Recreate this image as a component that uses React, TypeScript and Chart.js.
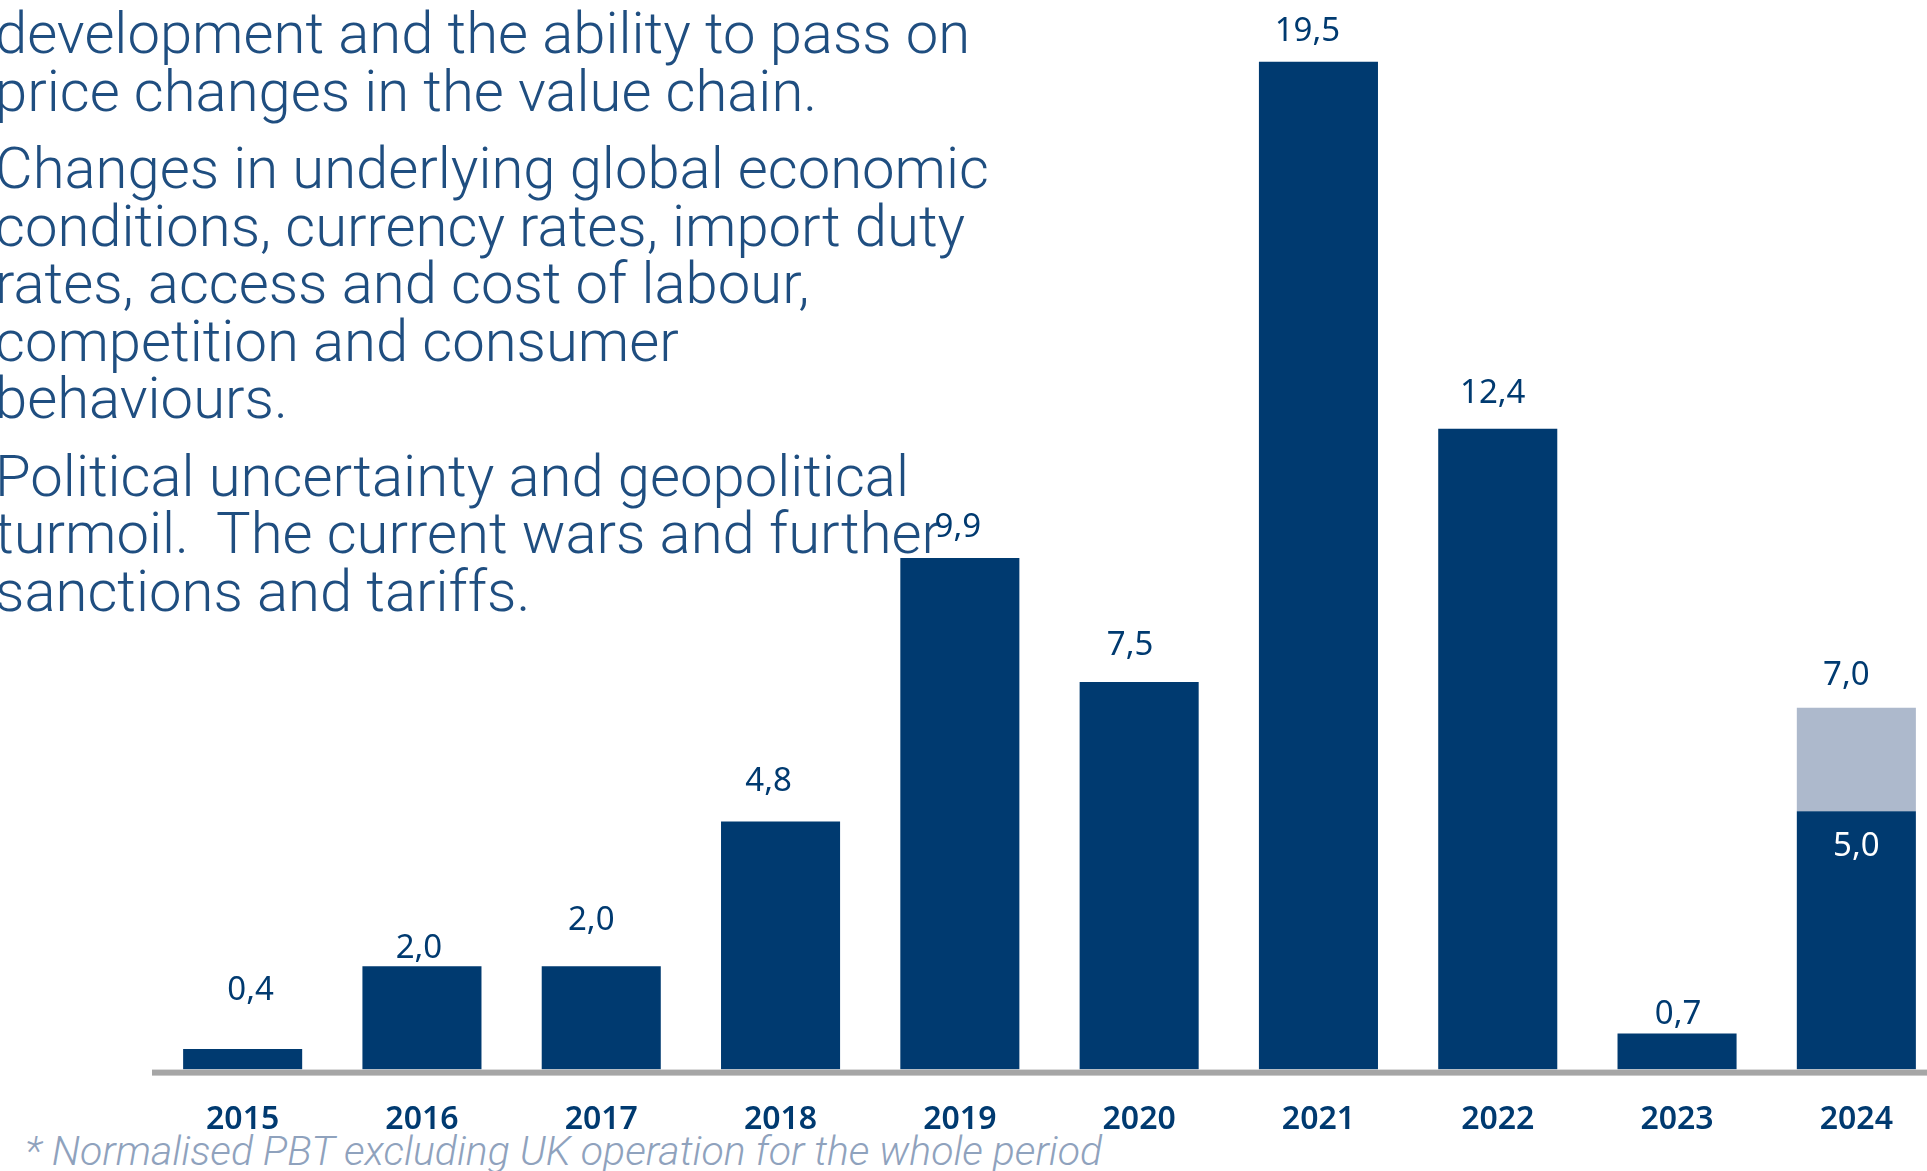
import { useEffect, useRef } from "react";
import { Chart, registerables } from "chart.js";

Chart.register(...registerables);

const years = ["2015", "2016", "2017", "2018", "2019", "2020", "2021", "2022", "2023", "2024"];
const baseValues = [0.4, 2.0, 2.0, 4.8, 9.9, 7.5, 19.5, 12.4, 0.7, 5.0];
const extraValues = [null, null, null, null, null, null, null, null, null, 2.0];
// label placement nudges (px): lift above bar top, horizontal shift
const labelLift = [58, 18, 46, 40, 30, 36, 30, 35, 19, 32];
const labelShift = [8, -3, -10, -12, -2, -9, -11, -5, 1, -10];

const paragraphs = [
  "development and the ability to pass on\nprice changes in the value chain.",
  "Changes in underlying global economic\nconditions, currency rates, import duty\nrates, access and cost of labour,\ncompetition and consumer\nbehaviours.",
  "Political uncertainty and geopolitical\nturmoil.  The current wars and further\nsanctions and tariffs.",
];
const footnote = "* Normalised PBT excluding UK operation for the whole period";

const NAVY = "#003a70";
const LIGHT = "#adb9cc";
const TEXT = "#1f4e80";

const fmt = (v: number) => v.toFixed(1).replace(".", ",");

export default function App() {
  const ref = useRef<HTMLCanvasElement | null>(null);

  useEffect(() => {
    if (!ref.current) return;
    const axisLine = {
      id: "axisLine",
      afterDatasetsDraw(chart: any) {
        const { ctx, chartArea, scales } = chart;
        const y0 = scales.y.getPixelForValue(0);
        ctx.save();
        ctx.fillStyle = "#a6a6a6";
        ctx.fillRect(chartArea.left - 1, y0, chart.width, 6);
        ctx.restore();
      },
    };
    const valueLabels = {
      id: "valueLabels",
      afterDatasetsDraw(chart: any) {
        const { ctx } = chart;
        const m0 = chart.getDatasetMeta(0);
        const m1 = chart.getDatasetMeta(1);
        ctx.save();
        ctx.textAlign = "center";
        ctx.textBaseline = "middle";
        ctx.font = "33px 'Noto Sans'";
        years.forEach((_, i) => {
          const hasExtra = extraValues[i] != null;
          const top = hasExtra ? m1.data[i] : m0.data[i];
          const total = baseValues[i] + (hasExtra ? (extraValues[i] as number) : 0);
          ctx.fillStyle = NAVY;
          ctx.fillText(fmt(total), top.x + labelShift[i], top.y - labelLift[i]);
          if (hasExtra) {
            const b = m0.data[i];
            ctx.fillStyle = "#ffffff";
            ctx.fillText(fmt(baseValues[i]), b.x, b.y + 35);
          }
        });
        ctx.restore();
      },
    };
    const chart = new Chart(ref.current, {
      type: "bar",
      data: {
        labels: years,
        datasets: [
          {
            data: baseValues,
            backgroundColor: NAVY,
            borderWidth: 0,
            categoryPercentage: 1,
            barPercentage: 0.664,
          },
          {
            data: extraValues as any,
            backgroundColor: LIGHT,
            borderWidth: 0,
            categoryPercentage: 1,
            barPercentage: 0.664,
          },
        ],
      },
      options: {
        responsive: false,
        animation: false,
        devicePixelRatio: 1,
        layout: { padding: { left: 153, right: 14, top: 36, bottom: 1 } },
        plugins: { legend: { display: false }, tooltip: { enabled: false } },
        scales: {
          x: {
            stacked: true,
            grid: { display: false, drawTicks: false },
            border: { display: false },
            ticks: {
              color: NAVY,
              padding: 31,
              font: { family: "'Noto Sans'", size: 32, weight: "600", lineHeight: 1.2 },
            },
          },
          y: {
            stacked: true,
            display: false,
            min: 0,
            max: 20,
          },
        },
      },
      plugins: [axisLine, valueLabels],
    });
    return () => chart.destroy();
  }, []);

  return (
    <div
      style={{
        position: "fixed",
        left: 0,
        top: 0,
        width: 1927,
        height: 1171,
        overflow: "hidden",
        background: "#ffffff",
      }}
    >
      <div
        style={{
          position: "absolute",
          left: -5,
          top: 5,
          fontFamily: "Roboto, sans-serif",
          fontWeight: 300,
          fontSize: 58,
          lineHeight: "57.5px",
          color: TEXT,
          whiteSpace: "pre",
        }}
      >
        {paragraphs.map((p, i) => (
          <div key={i} style={{ marginBottom: 20 }}>
            {p}
          </div>
        ))}
      </div>
      <div
        style={{
          position: "absolute",
          left: 25,
          top: 1127,
          fontFamily: "Roboto, sans-serif",
          fontWeight: 300,
          fontStyle: "italic",
          fontSize: 41,
          lineHeight: "48px",
          color: "#8fa2bd",
          whiteSpace: "pre",
        }}
      >
        {footnote}
      </div>
      <canvas
        ref={ref}
        width={1960}
        height={1171}
        style={{ position: "absolute", left: 0, top: 0, width: 1960, height: 1171 }}
      />
    </div>
  );
}
